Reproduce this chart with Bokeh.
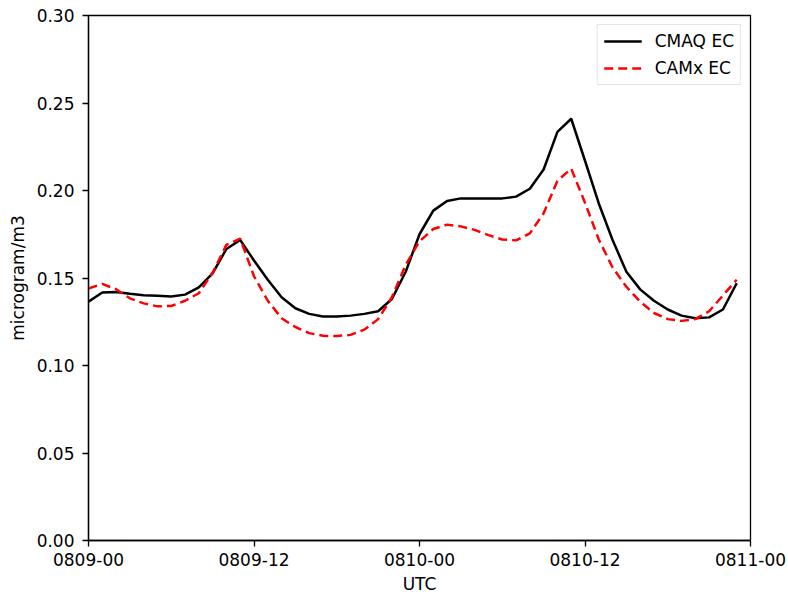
from bokeh.plotting import figure
from bokeh.models import Range1d, FixedTicker, Legend, LegendItem
from bokeh.embed import file_html
from bokeh.resources import INLINE

hours = list(range(48))

cmaq_ec = [0.1365, 0.1417, 0.1420, 0.1410, 0.1402, 0.1398, 0.1394, 0.1405, 0.1447, 0.1527,
           0.1666, 0.1717, 0.1600, 0.1490, 0.1390, 0.1327, 0.1295, 0.1280, 0.1280, 0.1285,
           0.1295, 0.1310, 0.1380, 0.1536, 0.1750, 0.1885, 0.1940, 0.1955, 0.1955, 0.1955,
           0.1955, 0.1965, 0.2010, 0.2120, 0.2335, 0.2410, 0.2170, 0.1926, 0.1717, 0.1536,
           0.1435, 0.1370, 0.1320, 0.1285, 0.1270, 0.1275, 0.1320, 0.1470]

camx_ec = [0.1440, 0.1466, 0.1436, 0.1384, 0.1355, 0.1338, 0.1340, 0.1370, 0.1413, 0.1530,
           0.1689, 0.1725, 0.1510, 0.1370, 0.1270, 0.1220, 0.1185, 0.1170, 0.1168, 0.1175,
           0.1205, 0.1265, 0.1390, 0.1575, 0.1710, 0.1780, 0.1805, 0.1795, 0.1775, 0.1745,
           0.1720, 0.1715, 0.1755, 0.1870, 0.2055, 0.2125, 0.1930, 0.1720, 0.1560, 0.1450,
           0.1365, 0.1300, 0.1265, 0.1255, 0.1265, 0.1310, 0.1400, 0.1490]

x_ticks = [0, 12, 24, 36, 48]
x_tick_labels = ["0809-00", "0809-12", "0810-00", "0810-12", "0811-00"]
y_ticks = [0.00, 0.05, 0.10, 0.15, 0.20, 0.25, 0.30]

FONT = "DejaVu Sans"
FS = "17px"

W, H = 788, 596
p = figure(width=W, height=H, output_backend="svg", toolbar_location=None,
           x_range=Range1d(0, 48), y_range=Range1d(0, 0.30),
           min_border_left=88, min_border_right=W - 750,
           min_border_top=15, min_border_bottom=H - 541)
p.grid.visible = False
p.outline_line_color = "black"
p.outline_line_width = 1.3
p.outline_line_alpha = 1.0

r1 = p.line(hours, cmaq_ec, line_color="black", line_width=2.5)
r2 = p.line(hours, camx_ec, line_color="#ff0000", line_width=2.5, line_dash="9 5")

for ax in (p.xaxis[0], p.yaxis[0]):
    ax.axis_line_color = "black"
    ax.axis_line_width = 1.3
    ax.major_tick_line_color = "black"
    ax.major_tick_line_width = 1.3
    ax.major_tick_out = 6
    ax.major_tick_in = 0
    ax.minor_tick_out = 0
    ax.minor_tick_in = 0
    ax.major_label_text_font = FONT
    ax.major_label_text_font_size = FS
    ax.major_label_text_color = "black"
    ax.axis_label_text_font = FONT
    ax.axis_label_text_font_size = FS
    ax.axis_label_text_font_style = "normal"
    ax.axis_label_text_color = "black"

p.xaxis.ticker = FixedTicker(ticks=x_ticks)
p.xaxis.major_label_overrides = {t: l for t, l in zip(x_ticks, x_tick_labels)}
p.xaxis.axis_label = "UTC"
p.xaxis.major_label_standoff = 6
p.xaxis.axis_label_standoff = 5

p.yaxis.ticker = FixedTicker(ticks=y_ticks)
p.yaxis.major_label_overrides = {t: f"{t:.2f}" for t in y_ticks}
p.yaxis.axis_label = "microgram/m3"
p.yaxis.major_label_standoff = 8
p.yaxis.axis_label_standoff = 6

legend = Legend(items=[LegendItem(label="CMAQ EC", renderers=[r1]),
                       LegendItem(label="CAMx EC", renderers=[r2])],
                location="top_right")
legend.margin = 9
legend.padding = 6
legend.spacing = 7
legend.glyph_width = 38
legend.glyph_height = 20
legend.label_height = 20
legend.label_standoff = 13
legend.label_text_font = FONT
legend.label_text_font_size = FS
legend.label_text_color = "black"
legend.border_line_color = "#cccccc"
legend.border_line_width = 1.3
legend.background_fill_alpha = 0.8
p.add_layout(legend)

open("out.html", "w").write(file_html(p, INLINE))
